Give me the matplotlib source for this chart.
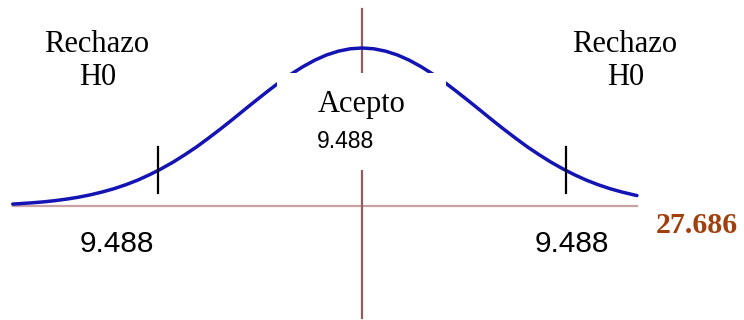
import matplotlib
matplotlib.use("Agg")
import matplotlib.pyplot as plt
from matplotlib.patches import Rectangle

# ---- data (x in standard units, y relative height) ----
curve_x = [-2.96, -2.9, -2.8, -2.7, -2.6, -2.5, -2.4, -2.3, -2.2, -2.1, -2.0,
           -1.9, -1.8, -1.7, -1.6, -1.5, -1.4, -1.3, -1.2, -1.1, -1.0,
           -0.9, -0.8, -0.7, -0.6, -0.5, -0.4, -0.3, -0.2, -0.1, 0.0,
           0.1, 0.2, 0.3, 0.4, 0.5, 0.6, 0.7, 0.8, 0.9, 1.0,
           1.1, 1.2, 1.3, 1.4, 1.5, 1.6, 1.7, 1.8, 1.9, 2.0,
           2.1, 2.2, 2.3, 2.33]
curve_y = [0.012, 0.015, 0.020, 0.026, 0.034, 0.044, 0.056, 0.071, 0.089, 0.110, 0.135,
           0.164, 0.198, 0.236, 0.278, 0.325, 0.375, 0.430, 0.487, 0.546, 0.607,
           0.667, 0.726, 0.783, 0.835, 0.882, 0.923, 0.956, 0.980, 0.995, 1.000,
           0.995, 0.980, 0.956, 0.923, 0.882, 0.835, 0.783, 0.726, 0.667, 0.607,
           0.546, 0.487, 0.430, 0.375, 0.325, 0.278, 0.236, 0.198, 0.164, 0.135,
           0.110, 0.089, 0.071, 0.066]
critical_x = [-1.73, 1.73]
side_label_1 = "Rechazo"
side_label_2 = "H0"
center_label = "Acepto"
value_label = "9.488"
chi_label = "27.686"

# pixel -> data helpers (layout only)
X0, SX = 362.0, 118.0
Y0, SY = 206.0, 158.0
def dx(p): return (p - X0) / SX
def dy(p): return (Y0 - p) / SY

fig = plt.figure(figsize=(7.44, 3.20), dpi=100)
ax = fig.add_axes([0, 0, 1, 1])
ax.set_xlim(dx(0), dx(744))
ax.set_ylim(dy(320), dy(0))
ax.axis("off")

# axes lines
ax.plot([curve_x[0], curve_x[-1]], [0, 0], color="#c9a3a3", lw=1.6, zorder=1)
ax.plot([0, 0], [dy(318), dy(9)], color="#8e5e5e", lw=1.6, zorder=1)

# curve
ax.plot(curve_x, curve_y, color="#1414b4", lw=2.5, zorder=2, solid_capstyle="round")

# critical value ticks
for cx in critical_x:
    ax.plot([cx, cx], [dy(193), dy(147)], color="black", lw=1.6, zorder=3)

# white patches behind central label
ax.add_patch(Rectangle((dx(277), dy(123)), dx(446) - dx(277), dy(73) - dy(123),
                       facecolor="white", edgecolor="none", zorder=4))
ax.add_patch(Rectangle((dx(305), dy(170)), dx(415) - dx(305), dy(123) - dy(170),
                       facecolor="white", edgecolor="none", zorder=4))

serif = ["Liberation Serif", "DejaVu Serif"]
sans = ["Liberation Sans", "DejaVu Sans"]

for px in (97, 625):
    ax.text(dx(px), dy(52), side_label_1, family=serif, fontsize=22,
            ha="center", va="baseline", zorder=5)
    ax.text(dx(px + 1), dy(85), side_label_2, family=serif, fontsize=22,
            ha="center", va="baseline", zorder=5)

ax.text(dx(362), dy(112), center_label, family=serif, fontsize=22,
        ha="center", va="baseline", zorder=5)
ax.text(dx(345), dy(147.5), value_label, family=sans, fontsize=16.5,
        ha="center", va="baseline", zorder=5)

for px in (117, 572):
    ax.text(dx(px), dy(252), value_label, family=sans, fontsize=21.5,
            ha="center", va="baseline", zorder=5)

ax.text(dx(697), dy(233), chi_label, family=serif, fontsize=21.5, fontweight="bold",
        color="#a0400c", ha="center", va="baseline", zorder=5)

fig.savefig("out.png", dpi=100, facecolor="white")
